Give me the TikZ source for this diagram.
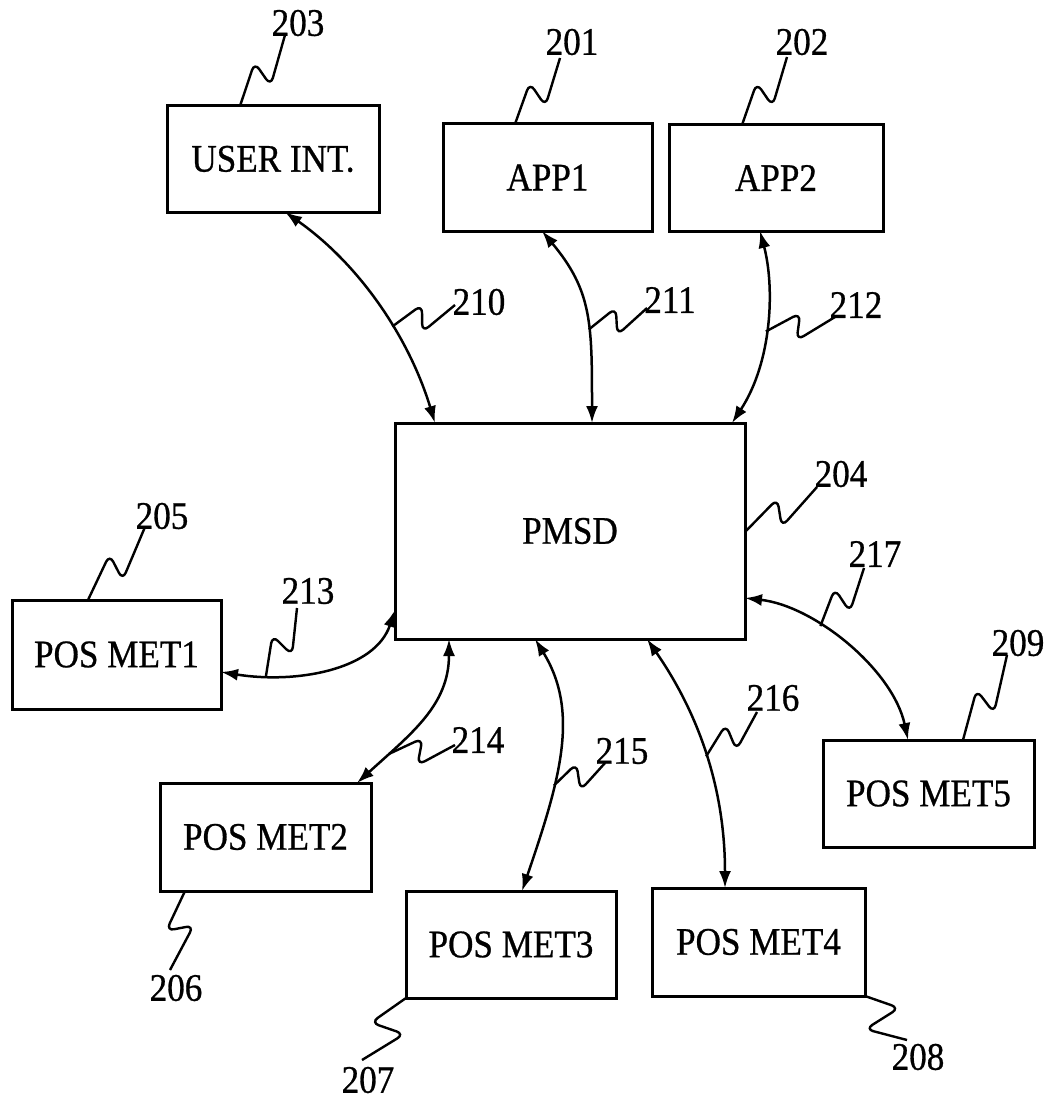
\documentclass[tikz,border=0pt]{standalone}
\usepackage{fontspec}
\setmainfont{Liberation Serif}[FakeStretch=0.9,FakeBold=0.7]
\usetikzlibrary{arrows.meta,calc}
\tikzset{
  box/.style={draw, line width=1.5pt, inner sep=0pt, outer sep=0pt, font=\fontsize{19.5}{22}\selectfont},
  num/.style={inner sep=0pt, font=\fontsize{19.5}{22}\selectfont},
  link/.style={line width=1.25pt, {Latex[length=8.5pt,width=6pt]}-{Latex[length=8.5pt,width=6pt]}},
  leadsty/.style={line width=1.2pt, rounded corners=4pt},
}
\newcommand\leadline[3][1]{%
  \pgfmathsetmacro\lpd{5.5*#1}%
  \pgfmathsetmacro\lvd{-7.5*#1}%
  \draw[leadsty] (#2) -- ($(#2)!0.53!(#3)!\lpd pt!90:(#3)$) -- ($(#2)!0.40!(#3)!\lvd pt!90:(#3)$) -- (#3);
}
\begin{document}
\begin{tikzpicture}[x=0.5pt,y=-0.5pt]
\useasboundingbox (0,0) rectangle (1050,1102);

% boxes
\node[box, minimum width=106pt,   minimum height=53pt]   (user) at (273,159)     {USER INT.};
\node[box, minimum width=104.5pt, minimum height=53.5pt] (app1) at (547.5,177.5) {APP1};
\node[box, minimum width=107pt,   minimum height=53pt]   (app2) at (776,178)     {APP2};
\node[box, minimum width=175pt,   minimum height=108pt]  (pmsd) at (570,531)     {PMSD};
\node[box, minimum width=104.5pt, minimum height=54.5pt] (pm1)  at (116.5,654.5) {POS MET1};
\node[box, minimum width=105.5pt, minimum height=54pt]   (pm2)  at (265.5,837)   {POS MET2};
\node[box, minimum width=105pt,   minimum height=53.5pt] (pm3)  at (511,944.5)   {POS MET3};
\node[box, minimum width=106.5pt, minimum height=54pt]   (pm4)  at (758.5,942)   {POS MET4};
\node[box, minimum width=105.5pt, minimum height=53.5pt] (pm5)  at (928.5,793.5) {POS MET5};

% connectors
\draw[link] ($(user.south west)+(118,0)$) .. controls +(74,52) and +(-26,-86) .. ($(pmsd.north west)+(40,0)$) coordinate[pos=0.6] (a210);
\draw[link] ($(app1.south west)+(99,0)$) .. controls +(50,60) and +(0,-100) .. ($(pmsd.north west)+(197,0)$) coordinate[pos=0.6] (a211);
\draw[link] ($(app2.south west)+(91,0)$) .. controls +(15,57) and +(40,-61) .. ($(pmsd.north west)+(337,0)$) coordinate[pos=0.53] (a212);
\draw[link] ($(pmsd.north west)+(0,187)$) .. controls +(-20,60) and +(75,12) .. ($(pm1.north east)+(0,72)$) coordinate[pos=0.8] (a213);
\draw[link] ($(pmsd.south west)+(54,0)$) .. controls +(0,66) and +(55,-50) .. ($(pm2.north west)+(197,0)$) coordinate[pos=0.79] (a214);
\draw[link] ($(pmsd.south west)+(140,0)$) .. controls +(45,73) and +(38,-111) .. ($(pm3.north west)+(116,0)$) coordinate[pos=0.64] (a215);
\draw[link] ($(pmsd.south west)+(252,0)$) .. controls +(45,65) and +(0,-110) .. ($(pm4.north west)+(73,0)$) coordinate[pos=0.54] (a216);
\draw[link] ($(pmsd.north east)+(0,175)$) .. controls +(70,8) and +(-15,-70) .. ($(pm5.north west)+(85,0)$) coordinate[pos=0.36] (a217);

% reference numerals
\node[num] (l203) at (298,23)   {203};
\node[num] (l201) at (572,42)   {201};
\node[num] (l202) at (802,42)   {202};
\node[num] (l210) at (479,302)  {210};
\node[num] (l211) at (670,300)  {211};
\node[num] (l212) at (856,305)  {212};
\node[num] (l204) at (841,474)  {204};
\node[num] (l217) at (875,554)  {217};
\node[num] (l209) at (1018,643) {209};
\node[num] (l205) at (162,516)  {205};
\node[num] (l213) at (308,591)  {213};
\node[num] (l214) at (478,740)  {214};
\node[num] (l215) at (622,751)  {215};
\node[num] (l216) at (773,698)  {216};
\node[num] (l206) at (176,988)  {206};
\node[num] (l207) at (368,1080) {207};
\node[num] (l208) at (918,1057) {208};

% lead line end points
\coordinate (a203) at ($(user.north west)+(73,0)$);
\coordinate (a201) at ($(app1.north west)+(72,0)$);
\coordinate (a202) at ($(app2.north west)+(73,0)$);
\coordinate (a204) at ($(pmsd.north east)+(0,109)$);
\coordinate (a209) at ($(pm5.north west)+(140,0)$);
\coordinate (a205) at ($(pm1.north west)+(76,0)$);
\coordinate (a206) at ($(pm2.south west)+(25,0)$);
\coordinate (a207) at (pm3.south west);
\coordinate (a208) at (pm4.south east);

\coordinate (b203) at (285,35);
\coordinate (b201) at (560,58);
\coordinate (b202) at (787,57);
\coordinate (b210) at (455,305);
\coordinate (b211) at (647,308);
\coordinate (b212) at (835,317);
\coordinate (b204) at (817,487);
\coordinate (b217) at (864,568);
\coordinate (b209) at (1007,655);
\coordinate (b205) at (145,527);
\coordinate (b213) at (297,608);
\coordinate (b214) at (455,745);
\coordinate (b215) at (605,763);
\coordinate (b216) at (757,712);
\coordinate (b206) at (170,970);
\coordinate (b207) at (362,1060);
\coordinate (b208) at (907,1040);

\leadline{a203}{b203}
\leadline{a201}{b201}
\leadline{a202}{b202}
\leadline{a210}{b210}
\leadline{a211}{b211}
\leadline{a212}{b212}
\leadline{a204}{b204}
\leadline{a217}{b217}
\leadline{a209}{b209}
\leadline{a205}{b205}
\leadline{a213}{b213}
\leadline{a214}{b214}
\leadline{a215}{b215}
\leadline{a216}{b216}
\leadline[-1]{a206}{b206}
\leadline[-1.3]{a207}{b207}
\leadline[1.5]{a208}{b208}
\end{tikzpicture}
\end{document}
